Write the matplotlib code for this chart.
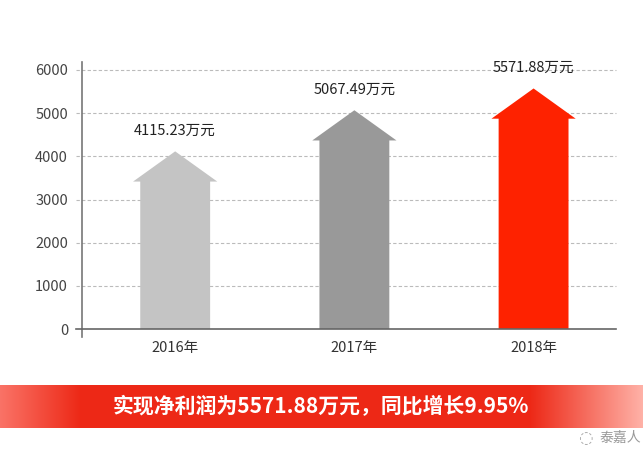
import matplotlib
matplotlib.use("Agg")
import matplotlib.pyplot as plt
from matplotlib.patches import Polygon
import numpy as np

plt.rcParams['font.family'] = ['Noto Sans CJK SC', 'DejaVu Sans']

years = ['2016年', '2017年', '2018年']
values = [4115.23, 5067.49, 5571.88]
labels = ['4115.23万元', '5067.49万元', '5571.88万元']
colors = ['#c4c4c4', '#999999', '#fe2200']
yticks = [0, 1000, 2000, 3000, 4000, 5000, 6000]
banner_text = '实现净利润为5571.88万元，同比增长9.95%'
watermark = '泰嘉人'

fig = plt.figure(figsize=(6.43, 4.68), dpi=100)
ax = fig.add_axes([82/643, 1-337/468, (616-82)/643, (337-62)/468])
ax.set_xlim(-0.52, 2.46)
ax.set_ylim(-185, 6185)

body_w = 0.39
head_w = 0.47
head_h = 700
for i, (v, c) in enumerate(zip(values, colors)):
    sh = v - head_h
    pts = [(i - body_w/2, 0), (i - body_w/2, sh), (i - head_w/2, sh), (i, v),
           (i + head_w/2, sh), (i + body_w/2, sh), (i + body_w/2, 0)]
    ax.add_patch(Polygon(pts, closed=True, facecolor=c, edgecolor='none', zorder=3))
    ax.annotate(labels[i], (i, v), xytext=(0, 10), textcoords='offset points',
                ha='center', va='bottom', fontsize=10.5, color='#222222', zorder=4)

for t in yticks[1:]:
    ax.axhline(t, xmin=-0.012, xmax=1, color='#bbbbbb', lw=0.8, ls=(0, (3, 2)),
               clip_on=False, zorder=1)
ax.axhline(0, xmin=-0.012, xmax=1, color='#666666', lw=1.2, clip_on=False, zorder=4)

for s in ['top', 'right', 'bottom']:
    ax.spines[s].set_visible(False)
ax.spines['left'].set_color('#777777')
ax.spines['left'].set_linewidth(1.2)

ax.set_yticks(yticks)
ax.set_yticklabels([str(t) for t in yticks])
ax.tick_params(axis='y', length=0, pad=10, labelsize=10.5, labelcolor='#444444')
ax.set_xticks(range(len(years)))
ax.set_xticklabels(years)
ax.tick_params(axis='x', length=0, pad=3, labelsize=10.5, labelcolor='#333333')

# banner
bax = fig.add_axes([0, 1-428/468, 1, 43/468])
bax.set_axis_off()
n = 643
xs = np.arange(n)
red = np.array([0.93, 0.16, 0.09])
pink = np.array([1.0, 0.70, 0.66])
leftc = np.array([0.98, 0.45, 0.40])
img = np.zeros((1, n, 3))
for x in xs:
    if x < 80:
        t = x / 80
        col = leftc * (1 - t) + red * t
    elif x > 530:
        t = (x - 530) / (n - 530)
        col = red * (1 - t) + pink * t
    else:
        col = red
    img[0, x] = col
bax.imshow(img, aspect='auto', extent=[0, 1, 0, 1])
bax.set_xlim(0, 1)
bax.set_ylim(0, 1)
bax.text(321/643, 0.5, banner_text, ha='center', va='center', color='white',
         fontsize=15, fontweight='bold')

fig.text(599/643, 1-438/468, watermark, ha='left', va='center', fontsize=10,
         color='#999999')
fig.text(585/643, 1-438/468, '◌', ha='center', va='center', fontsize=12,
         color='#aaaaaa', family=['DejaVu Sans'])

fig.savefig('out.png', dpi=100)
